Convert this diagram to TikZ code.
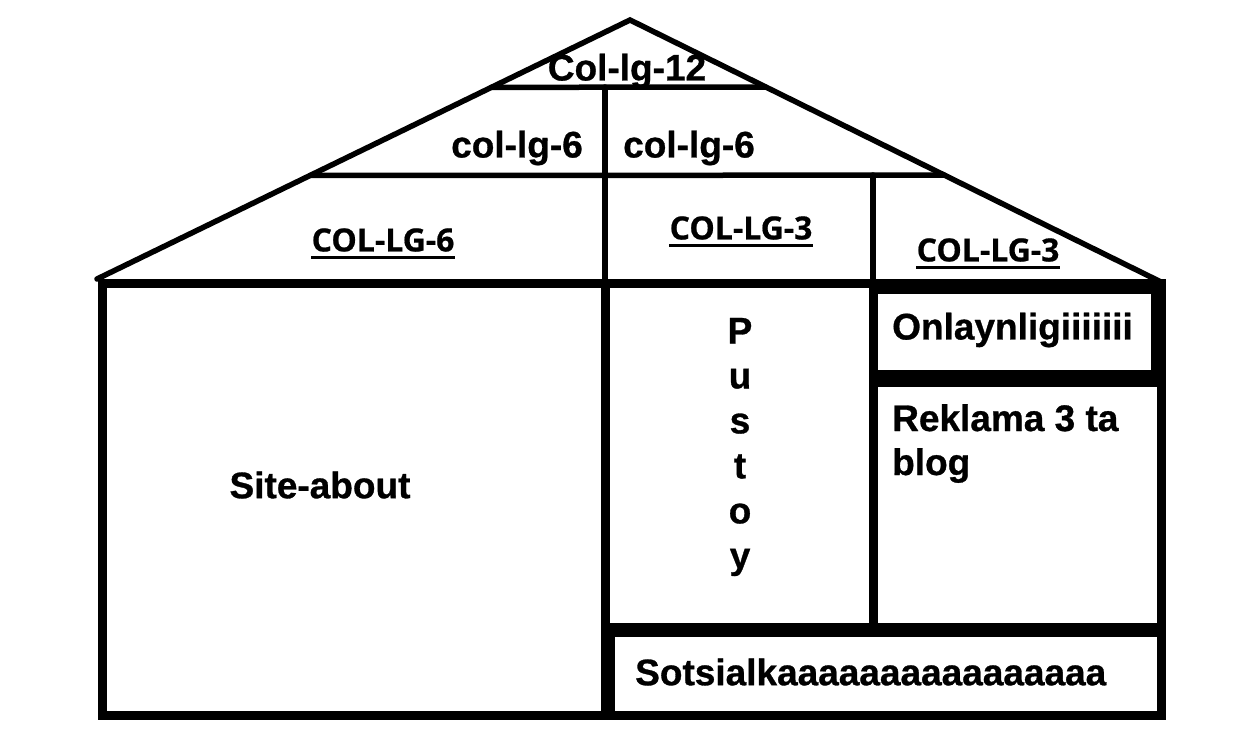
\documentclass[tikz,border=0pt]{standalone}
\usepackage{fontspec}
\setmainfont{Liberation Sans}[BoldFeatures={FakeBold=0.8}]
\newfontfamily\capfont{Open Sans}[BoldFeatures={FakeBold=0.6}]
\usetikzlibrary{calc}

\begin{document}
\begin{tikzpicture}[x=1pt,y=-1pt,
    roof/.style={line width=5.5pt,line cap=round},
    wall/.style={line width=9pt},
    bar/.style={line width=14pt},
    lbl/.style={font=\fontsize{37}{44}\selectfont\bfseries,inner sep=0pt},
    colcap/.style={font=\fontsize{32}{36}\selectfont\capfont\bfseries,inner sep=0pt},
    capline/.style={line width=2.5pt}]
    \useasboundingbox (0,0) rectangle (1233,754);
    % roof
    \coordinate (eaveL) at (97,279);
    \coordinate (top) at (630,20);
    \coordinate (eaveR) at (1163,283);
    \draw[roof] (eaveL) -- (top) -- (eaveR);
    \draw[roof] ($(eaveL)!0.74!(top)$) -- ($(eaveR)!0.745!(top)$);
    \draw[roof] ($(eaveL)!0.4!(top)$) -- ($(eaveR)!0.41!(top)$);
    \draw[roof] (605,87) -- (605,283);
    \draw[roof] (873,175) -- (873,283);
    % body
    \draw[wall] (102,283) rectangle (1161,715);
    \draw[wall] (605,283) -- (605,715);
    \draw[wall] (873,283) -- (873,630);
    \draw[line width=12pt] (873,288) -- (1165,288);
    \draw[bar] (1158,283) -- (1158,378);
    \draw[line width=17pt] (873,378) -- (1165,378);
    \draw[bar] (605,630) -- (1165,630);
    \draw[bar] (608,630) -- (608,715);
    % labels
    \node[lbl] (r12) at (627,71) {Col-lg-12};
    \node[lbl] (r6a) at (517,148) {col-lg-6};
    \node[lbl] (r6b) at (689,148) {col-lg-6};
    \node[colcap] (c6) at (383,240) {COL-LG-6};
    \node[colcap] (c3a) at (741,228) {COL-LG-3};
    \node[colcap] (c3b) at (988,250) {COL-LG-3};
    \foreach \c in {c6,c3a,c3b}
        \draw[capline] ([yshift=-6pt]\c.base west) -- ([yshift=-6pt]\c.base east);
    \node[lbl,anchor=west] (onl) at (892,330) {Onlaynligiiiiiii};
    \node[lbl,anchor=north west,align=left] (rek) at (892,404) {Reklama 3 ta\\blog};
    \node[lbl] (site) at (320,485) {Site-about};
    \node[lbl,align=center,font=\fontsize{37}{45}\selectfont\bfseries] (pust) at (740,447) {P\\u\\s\\t\\o\\y};
    \node[lbl,anchor=west] (sots) at (635,672) {Sotsialkaaaaaaaaaaaaaaaa};
\end{tikzpicture}
\end{document}
